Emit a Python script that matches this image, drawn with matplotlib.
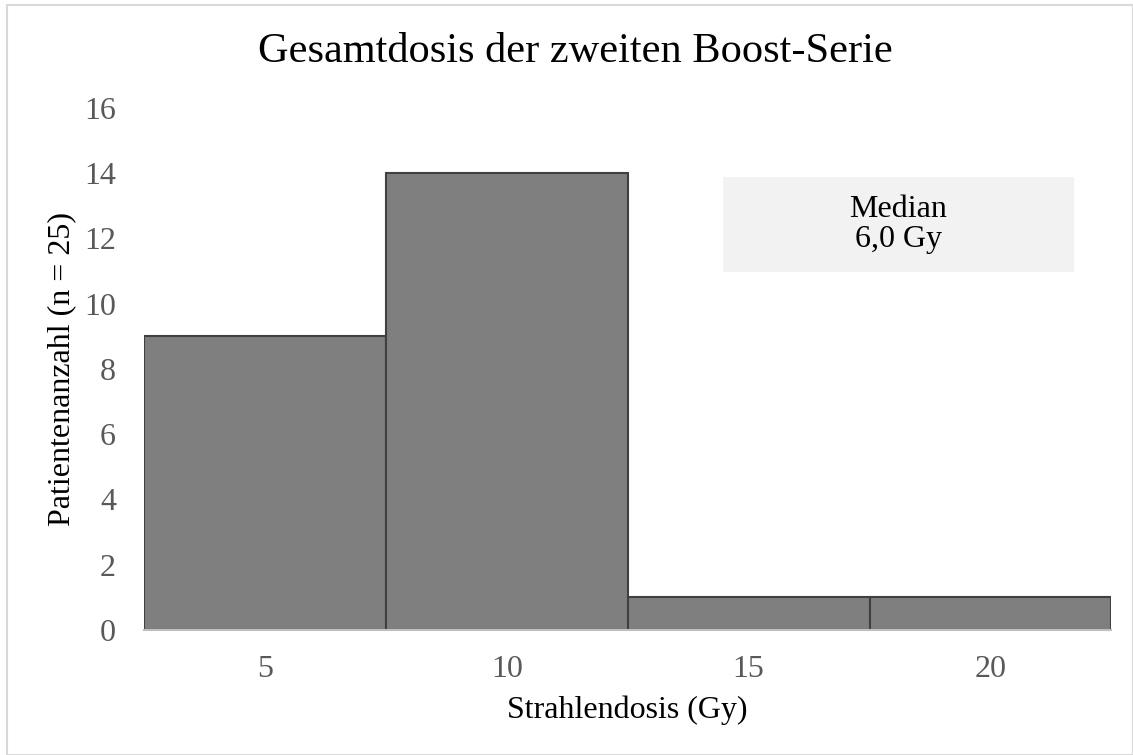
import matplotlib.pyplot as plt
from matplotlib.patches import Rectangle

plt.rcParams['font.family'] = ['Liberation Serif', 'DejaVu Serif']

# Daten
dose_bins = [5, 10, 15, 20]
patient_counts = [9, 14, 1, 1]
bin_width = 5
y_ticks = [0, 2, 4, 6, 8, 10, 12, 14, 16]

fig = plt.figure(figsize=(11.33, 7.55), dpi=100)
ax = fig.add_axes([0.127, 0.1656, 0.854, 0.6914])

ax.bar(dose_bins, patient_counts, width=bin_width, color='#7f7f7f',
       edgecolor='#404040', linewidth=1.5, zorder=2)

ax.set_xlim(dose_bins[0] - bin_width / 2, dose_bins[-1] + bin_width / 2)
ax.set_ylim(0, 16)
ax.set_xticks(dose_bins)
ax.set_yticks(y_ticks)
ax.tick_params(axis='both', length=0, labelsize=23, labelcolor='#595959')
ax.tick_params(axis='x', pad=18)
ax.tick_params(axis='y', pad=20)

for s in ['top', 'right', 'left']:
    ax.spines[s].set_visible(False)
ax.spines['bottom'].set_color('#bfbfbf')
ax.spines['bottom'].set_linewidth(1.5)
ax.spines['bottom'].set_zorder(3)

ax.set_xlabel('Strahlendosis (Gy)', fontsize=23, color='black', labelpad=8)
ax.set_ylabel('Patientenanzahl (n = 25)', fontsize=23, color='black', labelpad=6)
fig.text(0.5075, 0.931, 'Gesamtdosis der zweiten Boost-Serie', ha='center',
         va='center', fontsize=30.5, color='black')

# Median-Box
ax.add_patch(Rectangle((0.598, 0.686), 0.363, 0.182, transform=ax.transAxes,
                       facecolor='#f2f2f2', edgecolor='none', zorder=1))
ax.text(0.7795, 0.777, 'Median\n6,0 Gy', transform=ax.transAxes, ha='center',
        va='center', fontsize=23, color='black', linespacing=1.05, zorder=4)

# Rahmen
fig.patches.append(Rectangle((0.006, 0.0), 0.994, 0.994, transform=fig.transFigure,
                             fill=False, edgecolor='#d9d9d9', linewidth=1.5))

fig.savefig('out.png', dpi=100)
